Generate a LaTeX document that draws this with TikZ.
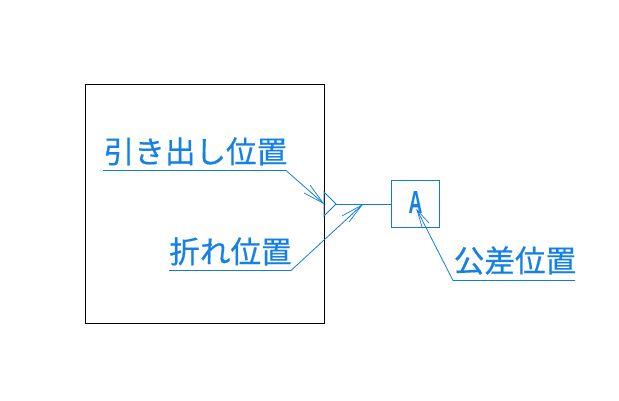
\documentclass[tikz,border=0pt]{standalone}
\usepackage{fontspec}
\setmainfont{Liberation Sans}
\newfontfamily\cjk[FakeBold=0.5]{Noto Sans CJK JP}
\definecolor{lead}{RGB}{16,124,216}
\definecolor{txt}{RGB}{20,128,232}
\tikzset{
  leadline/.style={draw=lead,line width=0.8pt,line join=miter},
  barb/.style={draw=lead,line width=0.7pt},
  label/.style={text=txt,inner sep=0pt,font=\cjk\fontsize{30.6}{30.6}\selectfont,anchor=base}
}
\begin{document}
\begin{tikzpicture}[x=1pt,y=-1pt]
\useasboundingbox (0,0) rectangle (619,401);
\node[draw=black,line width=1pt,minimum width=239pt,minimum height=239pt,inner sep=0pt] (part) at (204.5,204) {};
\node[draw=lead,line width=1pt,minimum width=48pt,minimum height=47pt,inner sep=0pt] (tol) at (415.5,204) {};
\node[text=txt,inner sep=0pt,font=\fontsize{32}{32}\selectfont\bfseries,anchor=base,xscale=0.6] (letterA) at (415.5,214) {A};
% datum triangle
\coordinate (triU) at (324,192);
\coordinate (triT) at (336,204);
\coordinate (triL) at (324,216);
\draw[leadline] (triU) -- (triT) -- (triL) -- cycle;
\draw[leadline] (triT) -- (tol.west |- triT);
% labels
\node[label] (lab1) at (195.5,163) {引き出し位置};
\node[label] (lab2) at (230.5,263) {折れ位置};
\node[label] (lab3) at (515,272) {公差位置};
% leader 1
\coordinate (l1a) at (103,170.5);
\coordinate (l1b) at (286,170.5);
\coordinate (t1) at (323,203);
\coordinate (b1a) at (310,185);
\coordinate (b1b) at (304,193);
\draw[leadline] (l1a) -- (l1b) -- (t1);
\draw[barb] (b1a) -- (t1) -- (b1b);
% leader 2
\coordinate (l2a) at (169,270.5);
\coordinate (l2b) at (291,270.5);
\coordinate (t2) at (362,205);
\coordinate (b2a) at (342,216);
\coordinate (b2b) at (349,222);
\draw[leadline] (l2a) -- (l2b) -- (t2);
\draw[barb] (b2a) -- (t2) -- (b2b);
% leader 3
\coordinate (l3a) at (575,280.5);
\coordinate (l3b) at (453,280.5);
\coordinate (t3) at (417,210);
\coordinate (b3a) at (429,223);
\coordinate (b3b) at (422,227);
\draw[leadline] (l3a) -- (l3b) -- (t3);
\draw[barb] (b3a) -- (t3) -- (b3b);
\end{tikzpicture}
\end{document}
